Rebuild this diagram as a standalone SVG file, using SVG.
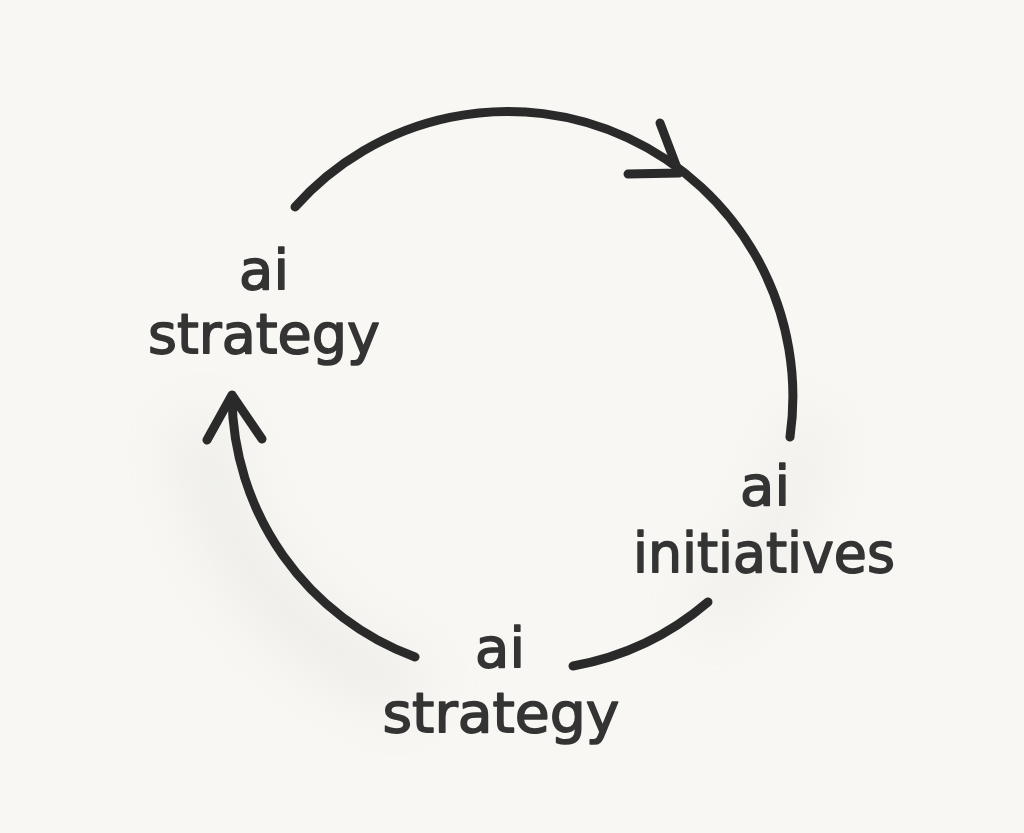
<svg xmlns="http://www.w3.org/2000/svg" width="1024" height="833" viewBox="0 0 1024 833">
<defs>
<style>
.ln{fill:none;stroke:#2a2a2a;stroke-width:9;stroke-linecap:round;stroke-linejoin:round}
.t{font-family:"DejaVu Sans","Liberation Sans",sans-serif;font-size:56px;fill:#343434;stroke:#343434;stroke-width:1.6;stroke-linejoin:round;text-anchor:middle}
</style>
<filter id="blur" x="-50%" y="-50%" width="200%" height="200%"><feGaussianBlur stdDeviation="30"/></filter>
</defs>
<rect width="1024" height="833" fill="#f8f7f3"/>
<g opacity="0.25" filter="url(#blur)">
<path d="M200,420 A300,300 0 0 0 420,690" fill="none" stroke="#c9c9c6" stroke-width="50"/>
<path d="M700,620 A300,300 0 0 0 810,420" fill="none" stroke="#cfcfcc" stroke-width="40"/>
</g>
<g id="connectors">
<path class="ln" d="M295,207 A285,285 0 0 1 790,437"/>
<path class="ln" d="M660,123 L679,173 L628,174"/>
<path class="ln" d="M708,602 A285,285 0 0 1 573,666"/>
<path class="ln" d="M415,657 A280,280 0 0 1 232,397"/>
<path class="ln" d="M207,440 L232,395 L262,439"/>
</g>
<g id="node-strategy-top">
<text class="t" x="264" y="289">ai</text>
<text class="t" x="264" y="353" textLength="232" lengthAdjust="spacingAndGlyphs">strategy</text>
</g>
<g id="node-initiatives">
<text class="t" x="765" y="505">ai</text>
<text class="t" x="764" y="572" textLength="262" lengthAdjust="spacingAndGlyphs">initiatives</text>
</g>
<g id="node-strategy-bottom">
<text class="t" x="500" y="667">ai</text>
<text class="t" x="501" y="732" textLength="237" lengthAdjust="spacingAndGlyphs">strategy</text>
</g>
</svg>
